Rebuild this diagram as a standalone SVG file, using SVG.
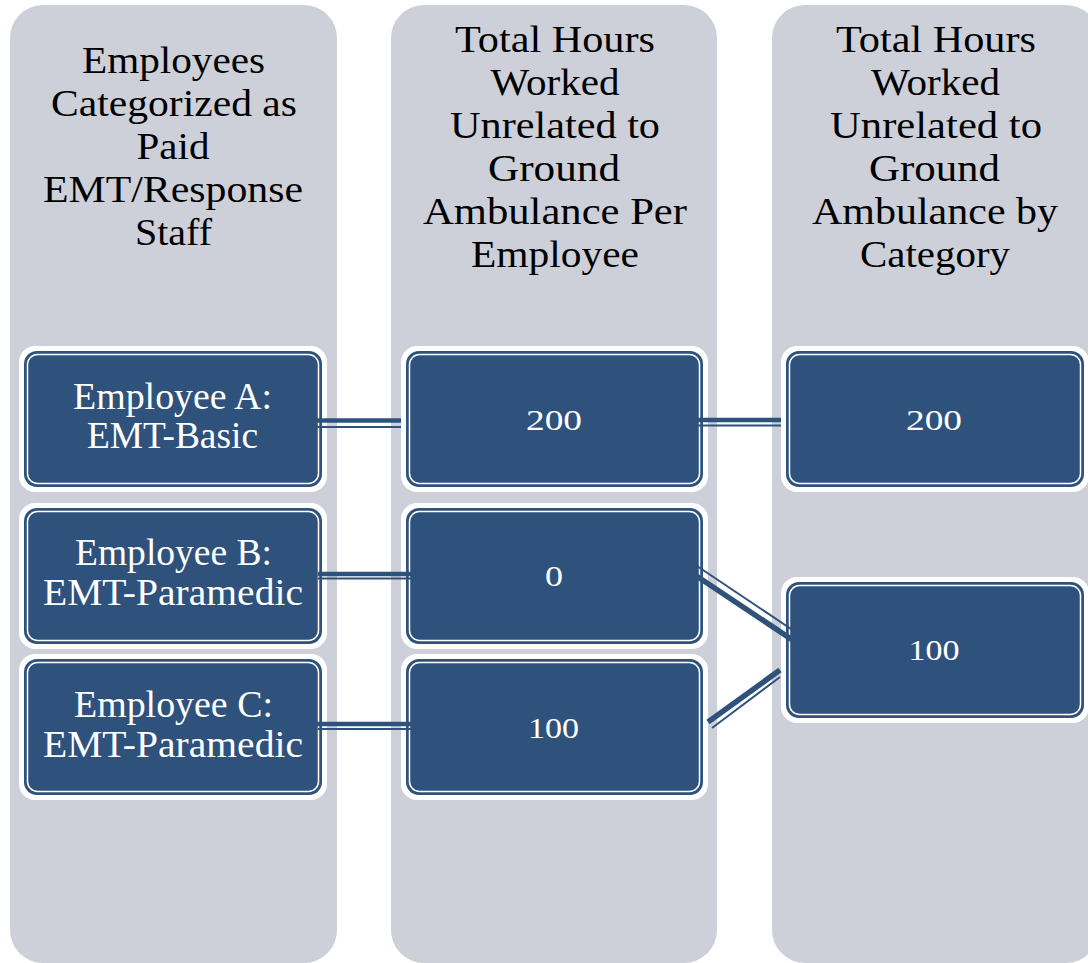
<svg xmlns="http://www.w3.org/2000/svg" width="1088" height="963" viewBox="0 0 1088 963">
<defs>
<style>
.col{fill:#cdd0d8;}
.hdr{font-family:"Liberation Serif","Times New Roman",serif;font-size:37px;fill:#000;text-anchor:middle;}
.ntx{font-family:"Liberation Serif","Times New Roman",serif;font-size:37px;fill:#fff;text-anchor:middle;}
.num{font-family:"Liberation Serif","Times New Roman",serif;font-size:30px;fill:#fff;text-anchor:middle;}
.outer{fill:#fff;}
.inner{fill:#2f527c;}
.ring{fill:none;stroke:#fff;stroke-width:1.5;}
.thick{stroke:#2f527c;stroke-width:4.5;fill:none;}
.thin{stroke:#2f527c;stroke-width:2;fill:none;}
.dthick{stroke:#2f527c;stroke-width:5.5;fill:none;}
</style>
</defs>
<rect width="1088" height="963" fill="#fff"/>
<g id="columns">
<rect class="col" x="10" y="5" width="327" height="958" rx="33"/>
<rect class="col" x="391" y="5" width="326" height="958" rx="33"/>
<rect class="col" x="772" y="5" width="327" height="958" rx="33"/>
</g>
<g id="header1">
<text class="hdr" x="173.5" y="73" textLength="183" lengthAdjust="spacingAndGlyphs">Employees</text>
<text class="hdr" x="174" y="116" textLength="246" lengthAdjust="spacingAndGlyphs">Categorized as</text>
<text class="hdr" x="173" y="159" textLength="73" lengthAdjust="spacingAndGlyphs">Paid</text>
<text class="hdr" x="173" y="202" textLength="260" lengthAdjust="spacingAndGlyphs">EMT/Response</text>
<text class="hdr" x="173.5" y="245" textLength="77" lengthAdjust="spacingAndGlyphs">Staff</text>
</g>
<g id="header2">
<text class="hdr" x="555" y="52" textLength="200" lengthAdjust="spacingAndGlyphs">Total Hours</text>
<text class="hdr" x="555" y="95" textLength="129" lengthAdjust="spacingAndGlyphs">Worked</text>
<text class="hdr" x="555" y="138" textLength="210" lengthAdjust="spacingAndGlyphs">Unrelated to</text>
<text class="hdr" x="554" y="181" textLength="132" lengthAdjust="spacingAndGlyphs">Ground</text>
<text class="hdr" x="555" y="224" textLength="264" lengthAdjust="spacingAndGlyphs">Ambulance Per</text>
<text class="hdr" x="555" y="267" textLength="168" lengthAdjust="spacingAndGlyphs">Employee</text>
</g>
<g id="header3">
<text class="hdr" x="936" y="52" textLength="200" lengthAdjust="spacingAndGlyphs">Total Hours</text>
<text class="hdr" x="935.5" y="95" textLength="129" lengthAdjust="spacingAndGlyphs">Worked</text>
<text class="hdr" x="936" y="138" textLength="212" lengthAdjust="spacingAndGlyphs">Unrelated to</text>
<text class="hdr" x="934.5" y="181" textLength="131" lengthAdjust="spacingAndGlyphs">Ground</text>
<text class="hdr" x="935" y="224" textLength="246" lengthAdjust="spacingAndGlyphs">Ambulance by</text>
<text class="hdr" x="935" y="267" textLength="150" lengthAdjust="spacingAndGlyphs">Category</text>
</g>
<g id="nodeA">
<rect class="outer" x="19" y="346" width="308" height="146" rx="16"/>
<rect class="inner" x="24" y="351" width="298" height="136" rx="13"/>
<rect class="ring" x="27.5" y="354.5" width="291" height="129" rx="10"/>
<text class="ntx" x="172.5" y="409" textLength="199" lengthAdjust="spacingAndGlyphs">Employee A:</text>
<text class="ntx" x="172.5" y="448" textLength="171" lengthAdjust="spacingAndGlyphs">EMT-Basic</text>
</g>
<g id="nodeB">
<rect class="outer" x="19" y="503" width="308" height="146" rx="16"/>
<rect class="inner" x="24" y="508" width="298" height="136" rx="13"/>
<rect class="ring" x="27.5" y="511.5" width="291" height="129" rx="10"/>
<text class="ntx" x="173.5" y="565" textLength="197" lengthAdjust="spacingAndGlyphs">Employee B:</text>
<text class="ntx" x="173" y="605" textLength="260" lengthAdjust="spacingAndGlyphs">EMT-Paramedic</text>
</g>
<g id="nodeC">
<rect class="outer" x="19" y="654" width="308" height="146" rx="16"/>
<rect class="inner" x="24" y="659" width="298" height="136" rx="13"/>
<rect class="ring" x="27.5" y="662.5" width="291" height="129" rx="10"/>
<text class="ntx" x="173.5" y="717" textLength="199" lengthAdjust="spacingAndGlyphs">Employee C:</text>
<text class="ntx" x="173" y="757" textLength="260" lengthAdjust="spacingAndGlyphs">EMT-Paramedic</text>
</g>
<g id="nodeHA">
<rect class="outer" x="401" y="346" width="307" height="146" rx="16"/>
<rect class="inner" x="406" y="351" width="297" height="136" rx="13"/>
<rect class="ring" x="409.5" y="354.5" width="290" height="129" rx="10"/>
<text class="num" x="554" y="430" textLength="56" lengthAdjust="spacingAndGlyphs">200</text>
</g>
<g id="nodeHB">
<rect class="outer" x="401" y="503" width="307" height="146" rx="16"/>
<rect class="inner" x="406" y="508" width="297" height="136" rx="13"/>
<rect class="ring" x="409.5" y="511.5" width="290" height="129" rx="10"/>
<text class="num" x="554" y="586" textLength="18" lengthAdjust="spacingAndGlyphs">0</text>
</g>
<g id="nodeHC">
<rect class="outer" x="401" y="654" width="307" height="146" rx="16"/>
<rect class="inner" x="406" y="659" width="297" height="136" rx="13"/>
<rect class="ring" x="409.5" y="662.5" width="290" height="129" rx="10"/>
<text class="num" x="553.5" y="738" textLength="51" lengthAdjust="spacingAndGlyphs">100</text>
</g>
<g id="nodeBasic">
<rect class="outer" x="781" y="346" width="308" height="146" rx="16"/>
<rect class="inner" x="786" y="351" width="298" height="136" rx="13"/>
<rect class="ring" x="789.5" y="354.5" width="291" height="129" rx="10"/>
<text class="num" x="934" y="430" textLength="56" lengthAdjust="spacingAndGlyphs">200</text>
</g>
<g id="nodeParamedic">
<rect class="outer" x="781" y="577" width="308" height="146" rx="16"/>
<rect class="inner" x="786" y="582" width="298" height="136" rx="13"/>
<rect class="ring" x="789.5" y="585.5" width="291" height="129" rx="10"/>
<text class="num" x="934" y="660" textLength="51" lengthAdjust="spacingAndGlyphs">100</text>
</g>
<g id="connectors">
<line class="thick" x1="310" y1="420.5" x2="401" y2="420.5"/>
<line class="thin" x1="316" y1="427" x2="401" y2="427"/>
<line class="thick" x1="689" y1="420" x2="781" y2="420"/>
<line class="thin" x1="697" y1="425.5" x2="781" y2="425.5"/>
<line class="thick" x1="318" y1="574" x2="428" y2="574"/>
<line class="thin" x1="318" y1="578.5" x2="428" y2="578.5"/>
<line class="thick" x1="312" y1="724" x2="422" y2="724"/>
<line class="thin" x1="318" y1="729" x2="422" y2="729"/>
<line class="dthick" x1="689" y1="571" x2="803" y2="647"/>
<line class="thin" x1="694" y1="564" x2="800" y2="635"/>
<line class="dthick" x1="708" y1="722" x2="780" y2="670"/>
<line class="thin" x1="712" y1="728" x2="780" y2="677"/>
</g>
</svg>
